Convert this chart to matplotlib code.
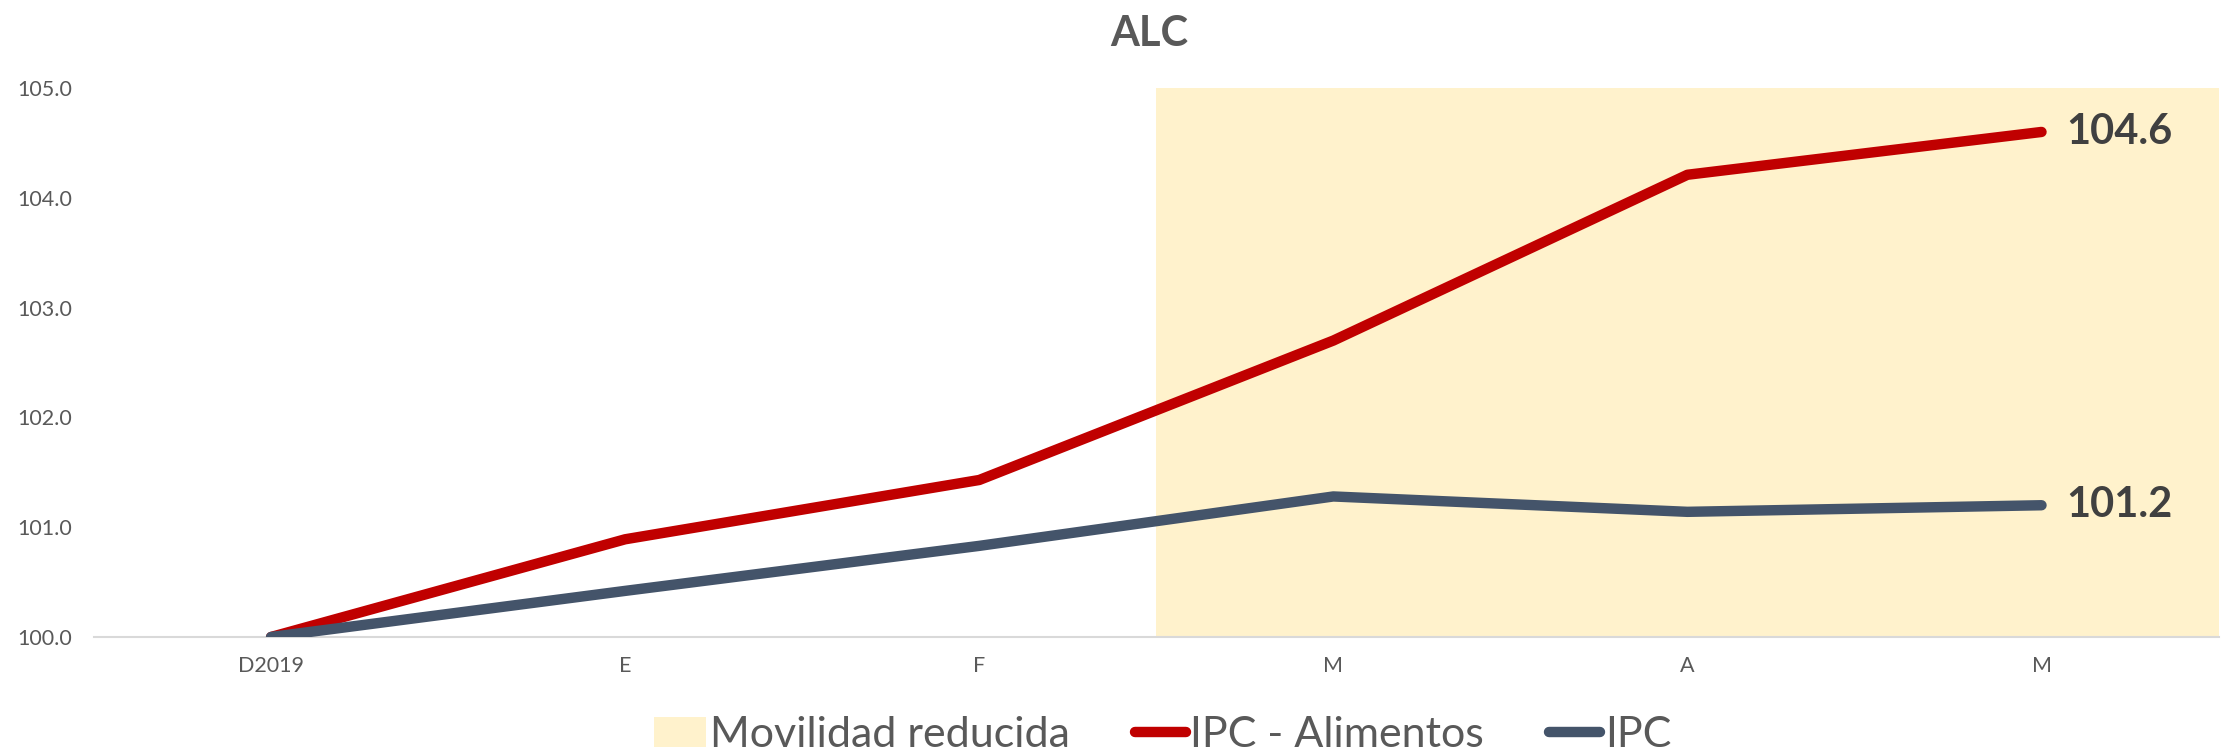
import numpy as np
import matplotlib
matplotlib.use('Agg')
import matplotlib.pyplot as plt

plt.rcParams['font.family'] = ['Lato', 'DejaVu Sans']

meses = ['D2019', 'E', 'F', 'M', 'A', 'M']
ipc_alim = [100.0, 100.89, 101.43, 102.70, 104.21, 104.6]
ipc = [100.0, 100.42, 100.83, 101.28, 101.14, 101.2]
shade_from = 2.5   # movilidad reducida desde mediados de marzo

gris = '#595959'
fig = plt.figure(figsize=(22.23, 7.55), dpi=100)
ax = fig.add_axes([0.0423, 0.1563, 0.9557, 0.7271])
x = np.arange(len(meses))

ax.axvspan(shade_from, len(meses) - 0.5, color='#FFF2CC', lw=0, zorder=0,
           label='Movilidad reducida')
ax.plot(x, ipc_alim, color='#C00000', lw=7.5, solid_capstyle='round',
        label='IPC - Alimentos', zorder=3)
ax.plot(x, ipc, color='#44546A', lw=7.5, solid_capstyle='round',
        label='IPC', zorder=3)

for serie in (ipc_alim, ipc):
    ax.annotate('%.1f' % serie[-1], (x[-1], serie[-1]), xytext=(18, 0),
                textcoords='offset points', va='center', ha='left',
                fontsize=30, fontweight='bold', color='#404040')

ax.set_xlim(-0.5, len(meses) - 0.5)
ax.set_ylim(100, 105)
ax.set_yticks(np.arange(100, 105.1, 1))
ax.yaxis.set_major_formatter(matplotlib.ticker.FormatStrFormatter('%.1f'))
ax.set_xticks(x)
ax.set_xticklabels(meses)
ax.tick_params(axis='both', length=0, labelsize=15.5, labelcolor=gris)
ax.tick_params(axis='y', pad=16)
ax.tick_params(axis='x', pad=14)
for s in ['top', 'right', 'left']:
    ax.spines[s].set_visible(False)
ax.spines['bottom'].set_color('#D9D9D9')
ax.spines['bottom'].set_linewidth(1.5)

fig.text(0.517, 0.955, 'ALC', ha='center', va='center', fontsize=30,
         fontweight='bold', color=gris)

fig.legend(loc='lower center', bbox_to_anchor=(0.523, -0.05), ncol=3,
           frameon=False, fontsize=31, labelcolor=gris, handlelength=1.2,
           handletextpad=0.1, columnspacing=1.5)

plt.savefig('out.png', dpi=100)
